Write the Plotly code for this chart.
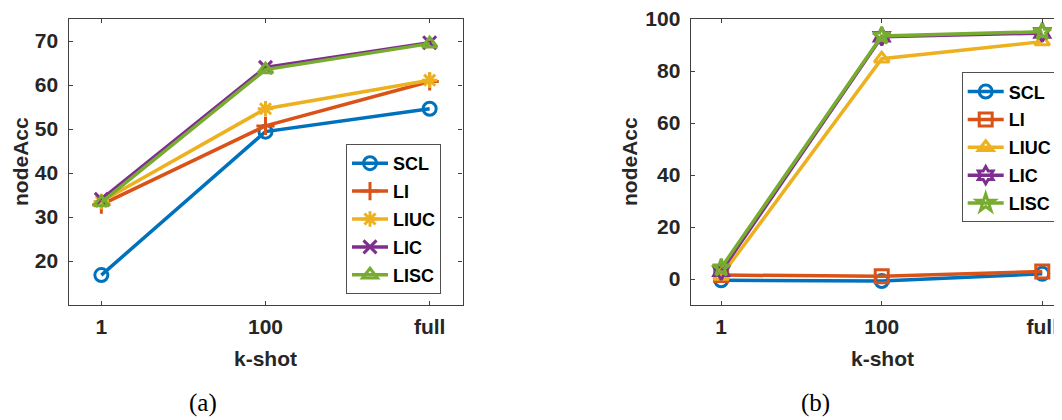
import plotly.graph_objects as go

# ---------------- data ----------------
kshot = ["1", "100", "full"]
series = ["SCL", "LI", "LIUC", "LIC", "LISC"]

a_scl = [16.8, 49.4, 54.6]
a_li = [32.8, 50.7, 60.8]
a_liuc = [33.5, 54.6, 61.1]
a_lic = [34.0, 64.0, 69.6]
a_lisc = [33.3, 63.5, 69.4]

b_scl = [-0.5, -0.8, 2.0]
b_li = [1.5, 1.1, 2.9]
b_liuc = [1.2, 84.7, 91.3]
b_lic = [3.0, 93.2, 94.6]
b_lisc = [4.3, 93.5, 95.1]

a_ticks = [20, 30, 40, 50, 60, 70]
b_ticks = [0, 20, 40, 60, 80, 100]

# ---------------- style ----------------
colors = ["#0072BD", "#D95319", "#EDB120", "#7E2F8E", "#77AC30"]
a_symbols = ["circle-open", "cross-thin-open", "asterisk-open", "x-thin-open", "triangle-up-open"]
b_symbols = ["circle-open", "square-open", "triangle-up-open", "hexagram-open", "star-open"]

# page body has an 8px margin: figure is placed at (8, 8)
OX, OY = 8, 8
W, H = 1062 - OX, 420 - OY
FONT = "Liberation Sans"
AXC = "#404040"
TXT = "#262626"

fig = go.Figure()

a_vals = [a_scl, a_li, a_liuc, a_lic, a_lisc]
b_vals = [b_scl, b_li, b_liuc, b_lic, b_lisc]

for i, name in enumerate(series):
    fig.add_trace(go.Scatter(
        x=kshot, y=a_vals[i], name=name, mode="lines+markers",
        line=dict(color=colors[i], width=3.5),
        marker=dict(symbol=a_symbols[i], size=13, color=colors[i],
                    line=dict(color=colors[i], width=3)),
        xaxis="x", yaxis="y", legend="legend", legendgroup="a" + name,
    ))
for i, name in enumerate(series):
    fig.add_trace(go.Scatter(
        x=kshot, y=b_vals[i], name=name, mode="lines+markers",
        line=dict(color=colors[i], width=3.5),
        marker=dict(symbol=b_symbols[i], size=13, color=colors[i],
                    line=dict(color=colors[i], width=3)),
        xaxis="x2", yaxis="y2", legend="legend2", legendgroup="b" + name,
    ))


def px(x):
    return (x - OX) / W


def py(y):
    return (OY + H - y) / H


tickfont = dict(family=FONT, size=21, color=TXT, weight="bold")
common = dict(showline=True, linecolor=AXC, linewidth=1.2, ticks="inside",
              ticklen=4, tickcolor=AXC, tickwidth=1, showgrid=False,
              zeroline=False, tickfont=tickfont, automargin=False,
              ticklabeloverflow="allow")

y_dom = [py(305), py(19)]
leg_font = dict(family=FONT, size=18, color="black", weight="bold")

fig.update_layout(
    width=W, height=H,
    margin=dict(l=0, r=0, t=0, b=0, autoexpand=False),
    paper_bgcolor="white", plot_bgcolor="white",
    showlegend=True,
    xaxis=dict(domain=[px(68.5), px(462.5)], anchor="y", type="category",
               range=[-0.2, 2.2], mirror="ticks", ticklabelstandoff=3, **common),
    yaxis=dict(domain=y_dom, anchor="x", range=[10, 75], tickvals=a_ticks,
               mirror="ticks", ticklabelstandoff=5, **common),
    xaxis2=dict(domain=[px(690.7), 1.0], anchor="y2", type="category",
                range=[-0.19, 2.123], mirror="ticks", ticklabelstandoff=3, **common),
    yaxis2=dict(domain=y_dom, anchor="x2", range=[-10, 100], tickvals=b_ticks,
                mirror=False, ticklabelstandoff=5, **common),
    legend=dict(x=px(441), y=py(144), xanchor="right", yanchor="top",
                bgcolor="white", bordercolor="#505050", borderwidth=1,
                font=leg_font, tracegroupgap=1.5, itemwidth=36),
    legend2=dict(x=px(1056.7), y=py(72.3), xanchor="right", yanchor="top",
                 bgcolor="white", bordercolor="#505050", borderwidth=1,
                 font=leg_font, tracegroupgap=1.5, itemwidth=36),
)

ann_font = dict(family=FONT, size=21, color=TXT, weight="bold")
cap_font = dict(family="Liberation Serif", size=25, color="black")
annotations = [
    dict(text="k-shot", x=px(265.5), y=py(358), font=ann_font),
    dict(text="nodeAcc", x=px(21), y=py(162), textangle=-90, font=ann_font),
    dict(text="k-shot", x=px(882), y=py(358), font=ann_font),
    dict(text="nodeAcc", x=px(630), y=py(162), textangle=-90, font=ann_font),
    dict(text="(a)", x=px(203), y=py(403), font=cap_font),
    dict(text="(b)", x=px(815), y=py(403), font=cap_font),
]
for a in annotations:
    fig.add_annotation(xref="paper", yref="paper", xanchor="center",
                       yanchor="middle", showarrow=False, **a)

fig.write_html("out.html")
